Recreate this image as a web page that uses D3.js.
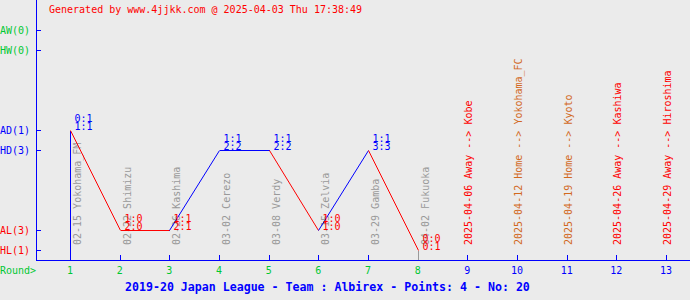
<!DOCTYPE html>
<html>
<head>
<meta charset="utf-8">
<script src="https://cdn.jsdelivr.net/npm/d3@7"></script>
<style>
  body { margin: 0; background: #ebebeb; }
  svg { display: block; background: #ebebeb; }
  text { font-family: "DejaVu Sans Mono", monospace; font-size: 10px; }
  line { shape-rendering: crispEdges; }
  line.seg { shape-rendering: auto; }
</style>
</head>
<body>
<svg width="690" height="300"></svg>
<script>
// levels on the y axis (outcome + venue) and how many times each happened
var levels = ["AW", "HW", "AD", "HD", "AL", "HL"];
var levelCounts = [0, 0, 1, 3, 3, 1];

// played rounds
var playedMatches = ["02-15 Yokohama_FM", "02-22 Shimizu", "02-26 Kashima", "03-02 Cerezo",
                     "03-08 Verdy", "03-15 Zelvia", "03-29 Gamba", "04-02 Fukuoka"];
var playedLevels = ["AD", "AL", "AL", "HD", "HD", "AL", "HD", "HL"];
var halfScores = ["0:1", "1:0", "1:1", "1:1", "1:1", "1:0", "1:1", "0:0"];
var fullScores = ["1:1", "2:0", "2:1", "2:2", "2:2", "1:0", "3:3", "0:1"];

// upcoming rounds
var nextDates = ["2025-04-06", "2025-04-12", "2025-04-19", "2025-04-26", "2025-04-29"];
var nextVenues = ["Away", "Home", "Home", "Away", "Away"];
var nextOpponents = ["Kobe", "Yokohama_FC", "Kyoto", "Kashiwa", "Hiroshima"];

var rounds = d3.range(1, 14);

var RED = "#ff0000", BLUE = "#0000ff", GREEN = "#00c832", GRAY = "#999999", HOME = "#d2691e";

var svg = d3.select("svg");

// **** scales ****
var xScale = d3.scaleLinear().domain([1, 13]).range([70, 666]);
var outcomeScale = d3.scalePoint().domain(["W", "D", "L"]).range([30, 230]);
var venueScale = d3.scalePoint().domain(["A", "H"]).range([0, 20]);

function yScale(level) {
    return outcomeScale(level[1]) + venueScale(level[0]);
}
function levelColor(level) {
    if (level[1] == "W") return GREEN;
    if (level[1] == "D") return BLUE;
    return RED;
}

var axisY = 260, axisX = 36;

// header
svg.append("text")
    .attr("x", 49).attr("y", 13)
    .attr("fill", RED)
    .text("Generated by www.4jjkk.com @ 2025-04-03 Thu 17:38:49");

// y axis
svg.append("line")
    .attr("x1", axisX).attr("x2", axisX).attr("y1", 0).attr("y2", axisY)
    .attr("stroke", BLUE).attr("stroke-width", 1);

var yTicks = svg.selectAll(".ytick").data(levels).enter().append("g").attr("class", "ytick");
yTicks.append("line")
    .attr("x1", axisX).attr("x2", axisX + 5)
    .attr("y1", function(d) { return yScale(d) + 0.5; })
    .attr("y2", function(d) { return yScale(d) + 0.5; })
    .attr("stroke", BLUE);
yTicks.append("text")
    .attr("x", 0)
    .attr("y", function(d) { return yScale(d) + 4; })
    .attr("fill", function(d) { return levelColor(d); })
    .text(function(d, i) { return d + "(" + levelCounts[i] + ")"; });

// x axis
svg.append("line")
    .attr("x1", axisX).attr("x2", 690).attr("y1", axisY + 0.5).attr("y2", axisY + 0.5)
    .attr("stroke", BLUE);

svg.append("text")
    .attr("x", 0).attr("y", 274)
    .attr("fill", GREEN)
    .text("Round>");

var xTicks = svg.selectAll(".xtick").data(rounds).enter().append("g").attr("class", "xtick");
xTicks.append("line")
    .attr("x1", function(d) { return Math.round(xScale(d)) + 0.5; })
    .attr("x2", function(d) { return Math.round(xScale(d)) + 0.5; })
    .attr("y1", axisY - 5).attr("y2", axisY)
    .attr("stroke", BLUE);
xTicks.append("text")
    .attr("x", function(d) { return xScale(d); })
    .attr("y", 274)
    .attr("text-anchor", "middle")
    .attr("fill", function(d) { return d <= playedLevels.length ? GREEN : BLUE; })
    .text(function(d) { return d; });

// played match names (vertical)
svg.selectAll(".played").data(playedMatches).enter().append("text")
    .attr("class", "played")
    .attr("fill", GRAY)
    .attr("transform", function(d, i) { return "translate(" + (xScale(i + 1) + 11) + ",245) rotate(-90)"; })
    .text(function(d) { return d; });

// upcoming matches (vertical)
svg.selectAll(".next").data(nextDates).enter().append("text")
    .attr("class", "next")
    .attr("fill", function(d, i) { return nextVenues[i] == "Home" ? HOME : RED; })
    .attr("transform", function(d, i) { return "translate(" + (xScale(playedLevels.length + i + 1) + 5) + ",245) rotate(-90)"; })
    .text(function(d, i) { return d + " " + nextVenues[i] + " --> " + nextOpponents[i]; });

// result line
var pts = playedLevels.map(function(d, i) { return { x: Math.round(xScale(i + 1)) + 0.5, y: yScale(d) + 0.5, level: d }; });

svg.append("line")
    .attr("x1", pts[0].x).attr("x2", pts[0].x)
    .attr("y1", axisY).attr("y2", pts[0].y)
    .attr("stroke", levelColor(pts[0].level));

for (var i = 1; i < pts.length; i++) {
    svg.append("line")
        .attr("class", pts[i].y == pts[i - 1].y ? "flat" : "seg")
        .attr("x1", pts[i - 1].x).attr("y1", pts[i - 1].y)
        .attr("x2", pts[i].x).attr("y2", pts[i].y)
        .attr("stroke", levelColor(pts[i].level));
}

var last = pts[pts.length - 1];
svg.append("line")
    .attr("x1", last.x).attr("x2", last.x)
    .attr("y1", last.y).attr("y2", axisY)
    .attr("stroke", GRAY);

// score labels
var scores = svg.selectAll(".score").data(pts).enter().append("g").attr("class", "score");
scores.append("text")
    .attr("x", function(d) { return d.x + 4; })
    .attr("y", function(d) { return d.y - 9; })
    .attr("fill", function(d) { return levelColor(d.level); })
    .text(function(d, i) { return halfScores[i]; });
scores.append("text")
    .attr("x", function(d) { return d.x + 4; })
    .attr("y", function(d) { return d.y - 1; })
    .attr("fill", function(d) { return levelColor(d.level); })
    .text(function(d, i) { return fullScores[i]; });

// title
svg.append("text")
    .attr("x", 125).attr("y", 291)
    .attr("fill", BLUE)
    .style("font-weight", "bold")
    .style("font-size", "11.6px")
    .text("2019-20 Japan League - Team : Albirex - Points: 4 - No: 20");
</script>
</body>
</html>
